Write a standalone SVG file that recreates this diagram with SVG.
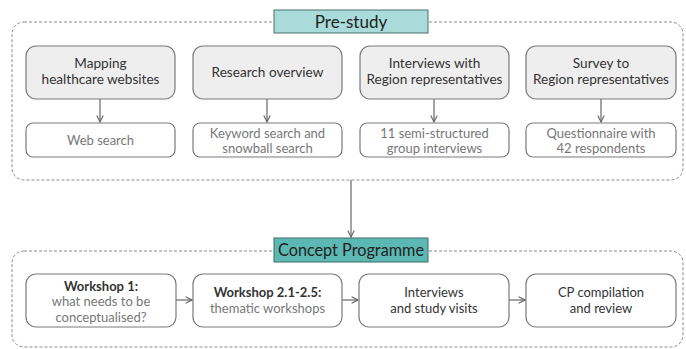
<svg xmlns="http://www.w3.org/2000/svg" width="686" height="349" viewBox="0 0 686 349">
<defs>
<style>
.frame{fill:none;stroke:#8a8a8a;stroke-width:1;stroke-dasharray:3,2}
.hd{fill:#eeeeee;stroke:#7a7a7a;stroke-width:1.2}
.sub{fill:#ffffff;stroke:#7a7a7a;stroke-width:1.2}
.t{font-family:Lato,"Open Sans","Liberation Sans",sans-serif;font-size:13px;fill:#333;text-anchor:middle}
.h{font-size:13.6px}
.g{fill:#777}
.b{font-weight:bold}
.lbl{font-family:Lato,"Open Sans","Liberation Sans",sans-serif;font-size:17px;fill:#222;text-anchor:middle}
.c{fill:none;stroke:#666;stroke-width:1.2}
</style>
<marker id="ah" viewBox="0 0 10 10" refX="9" refY="5" markerWidth="8" markerHeight="8" orient="auto" markerUnits="userSpaceOnUse">
<path d="M1,1 L9,5 L1,9" fill="none" stroke="#666" stroke-width="1.4"/>
</marker>
</defs>
<rect width="686" height="349" fill="#fff"/>
<g id="prestudy-frame">
<rect class="frame" x="12" y="22" width="671" height="158" rx="12"/>
</g>
<g id="concept-frame">
<rect class="frame" x="12" y="251" width="671" height="96" rx="12"/>
</g>
<g id="connectors">
<line class="c" x1="100" y1="99" x2="100" y2="122" marker-end="url(#ah)"/>
<line class="c" x1="267" y1="99" x2="267" y2="122" marker-end="url(#ah)"/>
<line class="c" x1="434" y1="99" x2="434" y2="122" marker-end="url(#ah)"/>
<line class="c" x1="601" y1="99" x2="601" y2="122" marker-end="url(#ah)"/>
<line class="c" x1="351" y1="180" x2="351" y2="237" marker-end="url(#ah)"/>
<line class="c" x1="176" y1="300" x2="192" y2="300" marker-end="url(#ah)"/>
<line class="c" x1="342" y1="300" x2="358" y2="300" marker-end="url(#ah)"/>
<line class="c" x1="509" y1="300" x2="525" y2="300" marker-end="url(#ah)"/>
</g>
<g id="label-prestudy">
<rect x="274" y="10" width="154" height="23" fill="#a8dbd9" stroke="#4d6e6c" stroke-width="1"/>
<text class="lbl" x="351" y="27.5">Pre-study</text>
</g>
<g id="label-concept">
<rect x="274" y="238" width="154" height="24" fill="#5cb8b3" stroke="#3f6a68" stroke-width="1"/>
<text class="lbl" x="351" y="256" textLength="146" lengthAdjust="spacingAndGlyphs">Concept Programme</text>
</g>
<g id="n-mapping">
<rect class="hd" x="26" y="46" width="149" height="53" rx="10"/>
<text class="t h" x="100.5" y="68">Mapping</text>
<text class="t h" x="100.5" y="84">healthcare websites</text>
</g>
<g id="n-research">
<rect class="hd" x="193" y="46" width="149" height="53" rx="10"/>
<text class="t h" x="267.5" y="77">Research overview</text>
</g>
<g id="n-interviews">
<rect class="hd" x="360" y="46" width="149" height="53" rx="10"/>
<text class="t h" x="434.5" y="68">Interviews with</text>
<text class="t h" x="434.5" y="84">Region representatives</text>
</g>
<g id="n-survey">
<rect class="hd" x="526" y="46" width="150" height="53" rx="10"/>
<text class="t h" x="601" y="68">Survey to</text>
<text class="t h" x="601" y="84">Region representatives</text>
</g>
<g id="n-web">
<rect class="sub" x="26" y="123" width="149" height="34" rx="7"/>
<text class="t g" x="100.5" y="144.5">Web search</text>
</g>
<g id="n-keyword">
<rect class="sub" x="193" y="123" width="149" height="34" rx="7"/>
<text class="t g" x="267.5" y="137.5">Keyword search and</text>
<text class="t g" x="267.5" y="153">snowball search</text>
</g>
<g id="n-semi">
<rect class="sub" x="360" y="123" width="149" height="34" rx="7"/>
<text class="t g" x="434.5" y="137.5">11 semi-structured</text>
<text class="t g" x="434.5" y="153">group interviews</text>
</g>
<g id="n-quest">
<rect class="sub" x="526" y="123" width="150" height="34" rx="7"/>
<text class="t g" x="601" y="137.5">Questionnaire with</text>
<text class="t g" x="601" y="153">42 respondents</text>
</g>
<g id="n-ws1">
<rect class="sub" x="26" y="274" width="150" height="53" rx="10"/>
<text class="t b" x="101" y="291">Workshop 1:</text>
<text class="t g" x="101" y="306">what needs to be</text>
<text class="t g" x="101" y="321.5">conceptualised?</text>
</g>
<g id="n-ws2">
<rect class="sub" x="193" y="274" width="149" height="53" rx="10"/>
<text class="t b" x="267.5" y="297">Workshop 2.1-2.5:</text>
<text class="t g" x="267.5" y="313">thematic workshops</text>
</g>
<g id="n-visits">
<rect class="sub" x="359" y="274" width="150" height="53" rx="10"/>
<text class="t" x="434" y="297">Interviews</text>
<text class="t" x="434" y="313">and study visits</text>
</g>
<g id="n-cp">
<rect class="sub" x="526" y="274" width="150" height="53" rx="10"/>
<text class="t" x="601" y="297">CP compilation</text>
<text class="t" x="601" y="313">and review</text>
</g>
</svg>
